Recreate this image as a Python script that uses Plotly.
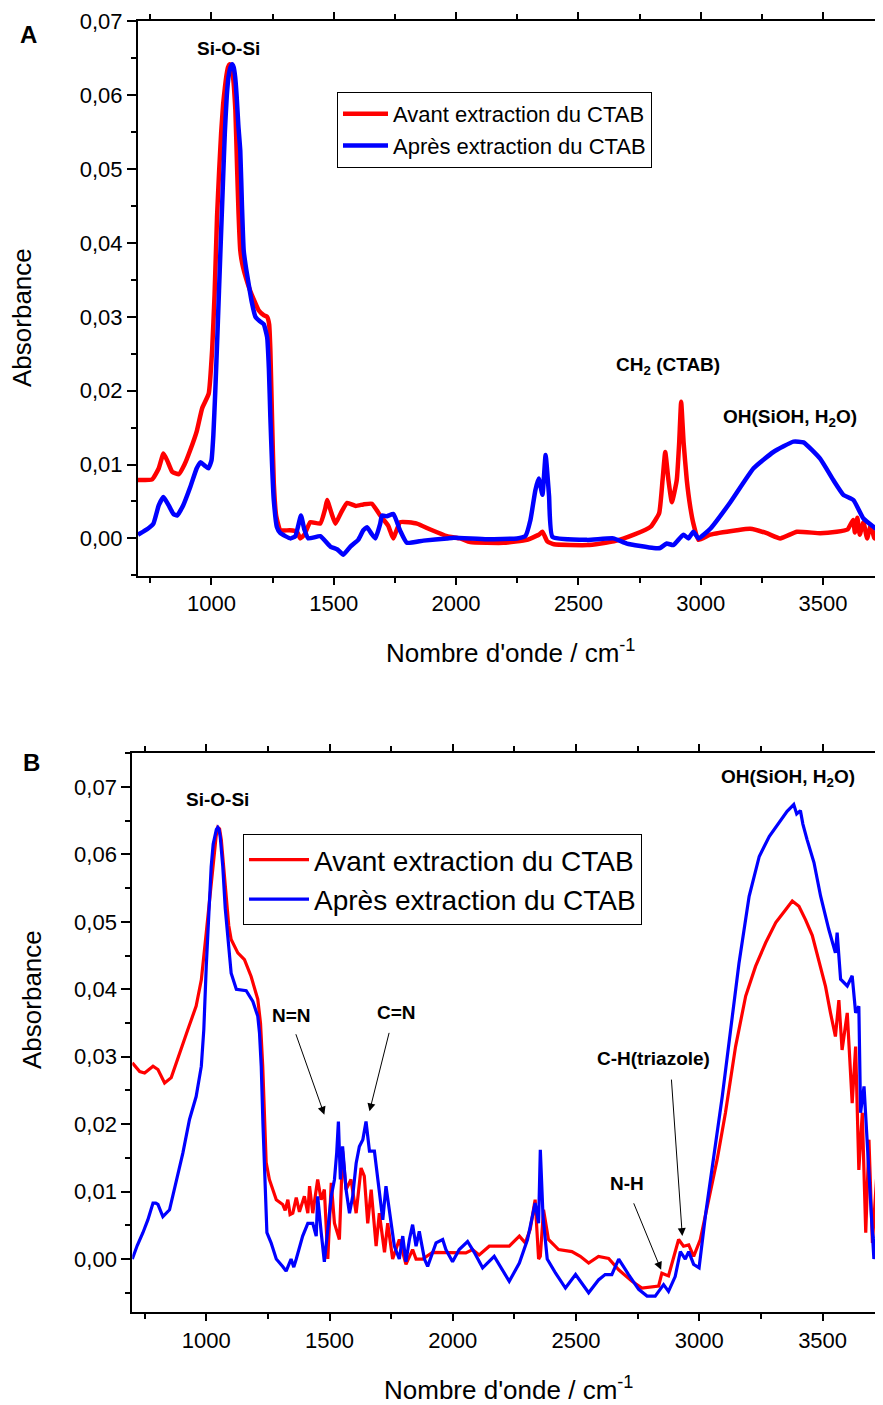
import plotly.graph_objects as go

# ---- Panel A : FTIR before / after CTAB extraction ----
wn_a_avant = [700, 758, 785, 804, 820, 840, 867, 890, 914, 940, 962, 989, 1003, 1013, 1023, 1032,
              1040, 1048, 1055, 1062, 1068, 1074, 1080, 1086, 1092, 1098, 1105, 1111, 1118, 1126,
              1135, 1159, 1193, 1215, 1228, 1236, 1241, 1248, 1255, 1265, 1282, 1320,
              1350, 1363, 1380, 1404, 1445, 1465, 1473, 1490, 1507, 1530, 1555, 1590, 1621, 1656,
              1690, 1723, 1743, 1772, 1840, 1895, 1963, 2017, 2058, 2193, 2290, 2338, 2353, 2373,
              2400, 2537, 2645, 2727, 2796, 2830, 2844, 2855, 2868, 2882, 2902, 2912, 2920, 2930,
              2943, 2957, 2970, 2991, 3039, 3148, 3202, 3270, 3325, 3393, 3488, 3556, 3600, 3623,
              3630, 3640, 3650, 3665, 3680, 3695, 3710, 3725, 3740]
abs_a_avant = [0.0079, 0.008, 0.0095, 0.0115, 0.0105, 0.009, 0.0087, 0.0100, 0.012, 0.0145, 0.0176,
               0.0196, 0.0255, 0.033, 0.0435, 0.050, 0.055, 0.0588, 0.061, 0.0628, 0.0638, 0.0642,
               0.0641, 0.0632, 0.0612, 0.058, 0.0502, 0.044, 0.039, 0.0372, 0.036, 0.0335,
               0.0309, 0.0302, 0.030, 0.029, 0.0255, 0.016, 0.0075, 0.003, 0.0011, 0.0011, 0.0009,
               0.0, 0.0005,
               0.0022, 0.002, 0.004, 0.0052, 0.0035, 0.002, 0.0035, 0.0048, 0.0044, 0.0046, 0.0047,
               0.0031, 0.0017, 0.0, 0.0022, 0.002, 0.0012, 0.0003, 0.0, -0.0005, -0.0006, -0.0002,
               0.0005, 0.0009, -0.0004, -0.0008, -0.0009, -0.0004, 0.0005, 0.0016, 0.0034, 0.0079,
               0.0117, 0.0079, 0.0049, 0.0079, 0.013, 0.0185, 0.013, 0.0079, 0.0043, 0.002, -0.0002,
               0.0005, 0.0011, 0.0013, 0.0007, 0.0, 0.0009, 0.0007, 0.0009, 0.0012, 0.0025, 0.0008,
               0.0028, 0.0005, 0.0022, 0.0, 0.0018, 0.0, 0.0015, 0.0025]

wn_a_apres = [700, 740, 763, 785, 804, 825, 845, 860, 885, 914, 940, 955, 975, 988, 1000, 1008, 1016,
              1025, 1037, 1047, 1055, 1063, 1070, 1078, 1085, 1091, 1097, 1103, 1110, 1118, 1125,
              1132, 1142, 1152, 1165, 1180, 1198, 1214, 1228, 1235, 1241, 1248, 1255, 1268, 1282,
              1323, 1343, 1366, 1380, 1396, 1445, 1486, 1515, 1539, 1568, 1600, 1621, 1636, 1655,
              1670, 1690, 1697, 1717, 1744, 1772, 1799, 1867, 1963, 1990, 2126, 2249, 2283, 2304,
              2324, 2338, 2353, 2366, 2380, 2394, 2537, 2643, 2698, 2807, 2834, 2861, 2888, 2929,
              2950, 2970, 2991, 3039, 3121, 3216, 3297, 3379, 3420, 3488, 3542, 3583, 3624, 3665,
              3705, 3740]
abs_a_apres = [0.0005, 0.0013, 0.002, 0.0045, 0.0056, 0.0045, 0.0033, 0.0031, 0.0045, 0.007, 0.0095,
               0.0103, 0.0098, 0.0095, 0.0105, 0.014, 0.020, 0.028, 0.039, 0.048, 0.055, 0.060,
               0.0625, 0.0638, 0.0642, 0.0638, 0.0625, 0.060, 0.056, 0.0525, 0.045, 0.039, 0.0365,
               0.0345, 0.032, 0.030, 0.0294, 0.029, 0.0272, 0.023, 0.0164, 0.010, 0.0052, 0.0015,
               0.0007, 0.0, 0.0003,
               0.0031, 0.0012, 0.0, 0.0003, -0.0011, -0.0015, -0.0022, -0.0011, -0.0002, 0.0011,
               0.0015, 0.0006, 0.0, 0.002, 0.0031, 0.003, 0.0033, 0.001, -0.0006, -0.0003, 0.0,
               0.0001, -0.0001, 0.0, 0.0003, 0.0025, 0.0065, 0.0081, 0.0059, 0.0113, 0.0058, 0.0002,
               -0.0002, 0.0, -0.0007, -0.0013, -0.0013, -0.0007, -0.0009, 0.0005, 0.0, 0.0009, 0.0,
               0.0013, 0.0049, 0.0095, 0.0117, 0.0131, 0.013, 0.0108, 0.0079, 0.0059, 0.0052, 0.0027,
               0.0016, 0.0007]

# ---- Panel B ----
wn_b_avant = [700, 730, 750, 765, 784, 804, 831, 858, 892, 925, 959, 980, 1000, 1020, 1030, 1040,
              1047, 1054, 1061, 1071, 1081, 1091, 1101, 1128, 1155, 1182, 1209, 1220, 1229, 1237,
              1243, 1256, 1284, 1310, 1320, 1331,
              1340, 1351, 1365, 1378, 1398, 1412, 1419, 1432, 1452, 1466, 1479, 1493, 1507, 1520,
              1540, 1553, 1567, 1587, 1608, 1628, 1641, 1655, 1669, 1689, 1702, 1723, 1736, 1756,
              1783, 1810, 1837, 1851, 1878, 1918, 1972, 2026, 2053, 2080, 2107, 2148, 2202, 2229,
              2270, 2294, 2314, 2334, 2348, 2355, 2368, 2388, 2429, 2483, 2517, 2551, 2591, 2632,
              2673, 2727, 2767, 2835, 2848, 2875, 2916, 2936, 2957, 2977, 3004, 3038, 3072, 3106,
              3147, 3188, 3228, 3269, 3310, 3350, 3377, 3404, 3431, 3458, 3485, 3512, 3532, 3552,
              3566, 3579, 3600, 3620, 3634, 3647, 3661, 3675, 3688, 3702, 3722, 3740]
abs_b_avant = [0.0291, 0.0278, 0.0276, 0.028, 0.0286, 0.0281, 0.0261, 0.0269, 0.0306, 0.034, 0.0375,
               0.0414, 0.0484, 0.0558, 0.0598, 0.0627, 0.064, 0.0638, 0.0622, 0.058, 0.0533, 0.0495,
               0.0474, 0.0454, 0.0444, 0.0419, 0.0385, 0.035, 0.0286, 0.020, 0.0143, 0.0118, 0.0088,
               0.0081, 0.0072, 0.0088, 0.0066, 0.0068, 0.0091,
               0.007, 0.0093, 0.0068, 0.0108, 0.0068, 0.0118, 0.0088, 0.0103, 0.0, 0.0113, 0.0053,
               0.0029, 0.016, 0.0103, 0.0118, 0.0068, 0.0135, 0.0123, 0.0053, 0.0103, 0.0019, 0.0068,
               0.001, 0.0053, 0.0, 0.0029, -0.0008, 0.0014, 0.0, 0.0, 0.001, 0.001, 0.001, 0.0009,
               0.0014, 0.0006, 0.0019, 0.0019, 0.0019, 0.0034, 0.0024, 0.0044, 0.0088, 0.0, 0.0004,
               0.0073, 0.0029, 0.0014, 0.0011, 0.0004, -0.0006, 0.0004, 0.0001, -0.0016, -0.0033,
               -0.0043, -0.004, -0.0021, -0.0025, 0.0029, 0.0019, 0.0021, 0.0004, 0.0029, 0.0088,
               0.0147, 0.0217, 0.0315, 0.039, 0.0434, 0.0469, 0.0499, 0.0518, 0.0531, 0.0523, 0.0503,
               0.048, 0.0444, 0.0404, 0.0365, 0.033, 0.0384, 0.031, 0.0365, 0.0231, 0.0315, 0.0132,
               0.0217, 0.0039, 0.0177, 0.0024, 0.0137, 0.0167]

wn_b_apres = [700, 720, 743, 763, 784, 795, 804, 815, 824, 851, 878, 905, 932, 959, 980, 990, 1000,
              1010, 1020, 1028, 1035, 1041, 1047, 1052, 1057, 1062, 1067, 1077, 1088, 1101, 1122,
              1162, 1189, 1209, 1216, 1223, 1230, 1236, 1246, 1263,
              1284, 1310, 1324, 1344, 1355, 1365, 1391, 1412, 1432, 1446, 1452, 1466, 1479, 1493,
              1507, 1520, 1529, 1536, 1544, 1553, 1567, 1581, 1594, 1608, 1621, 1635, 1648, 1662,
              1682, 1696, 1716, 1729, 1749, 1763, 1783, 1797, 1810, 1824, 1837, 1851, 1864, 1885,
              1898, 1932, 1959, 1972, 1999, 2026, 2060, 2087, 2121, 2168, 2229, 2270, 2303, 2324,
              2334, 2348, 2355, 2366, 2383, 2417, 2457, 2498, 2551, 2591, 2618, 2645, 2673, 2713,
              2754, 2788, 2821, 2855, 2875, 2902, 2923, 2943, 2957, 2977, 2999, 3026, 3066, 3093,
              3127, 3161, 3202, 3243, 3284, 3325, 3356, 3383, 3395, 3410, 3420, 3437, 3465, 3492,
              3525, 3552, 3559, 3573, 3600, 3620, 3634, 3647, 3654, 3668, 3681, 3695, 3708, 3722,
              3735, 3745]
abs_b_apres = [0.0, 0.002, 0.0039, 0.0058, 0.0083, 0.0083, 0.0081, 0.007, 0.0063, 0.0073, 0.0113,
               0.0157, 0.0207, 0.0241, 0.0286, 0.034, 0.0434, 0.051, 0.0582, 0.0615, 0.063, 0.0637,
               0.064, 0.0637, 0.0625, 0.0605, 0.0582, 0.052, 0.0474, 0.0424, 0.040, 0.0398, 0.0382,
               0.036, 0.0335, 0.0286, 0.020, 0.0137, 0.0039, 0.0024, 0.0, -0.0011,
               -0.0018, 0.0, -0.0012, 0.0, 0.0034, 0.0053, 0.0053, 0.0034, 0.0093, 0.004, -0.0004,
               0.0044, 0.0093, 0.0118, 0.0157, 0.0204, 0.0118, 0.0167, 0.0103, 0.0068, 0.0093, 0.0142,
               0.0167, 0.0177, 0.0204, 0.016, 0.016, 0.0118, 0.0058, 0.0108, 0.0053, 0.0019, 0.0,
               0.0034, -0.0004, 0.0029, 0.0051, 0.0019, 0.0041, 0.0, -0.0011, 0.0024, 0.0029, 0.0014,
               -0.0004, 0.0014, 0.0026, 0.001, -0.0013, 0.0004, -0.0033, -0.0006, 0.0029, 0.0068,
               0.0083, 0.0053, 0.0162, 0.0063, 0.0, -0.0021, -0.0043, -0.0023, -0.005, -0.0031,
               -0.0023, -0.0023, 0.0, -0.0023, -0.0045, -0.0055, -0.0055, -0.0038, -0.0048, -0.0026,
               0.0011, 0.0, 0.0011, -0.0008, -0.0013, 0.0068, 0.0167, 0.0241, 0.034, 0.0439, 0.0538,
               0.0597, 0.0627, 0.0647, 0.0664, 0.0674, 0.066, 0.0665, 0.0645, 0.0622, 0.0588, 0.0538,
               0.0489, 0.0454, 0.0484, 0.0415, 0.0405, 0.042, 0.0365, 0.0375, 0.0217, 0.0256, 0.0167,
               0.0093, 0.0, 0.0053, 0.0, 0.0]

RED = "#ff0000"
BLUE = "#0000ff"
FONT = "Liberation Sans, Arial, sans-serif"
W, H = 875, 1397  # page body adds an 8px margin


def px(x):
    return (x - 8) / W


def py(y):
    return 1 - (y - 8) / H


fig = go.Figure()
fig.add_trace(go.Scatter(x=wn_a_avant, y=abs_a_avant, mode="lines", name="Avant extraction du CTAB",
                         line=dict(color=RED, width=4.5, shape="spline", smoothing=0.4),
                         xaxis="x", yaxis="y", legend="legend"))
fig.add_trace(go.Scatter(x=wn_a_apres, y=abs_a_apres, mode="lines", name="Après extraction du CTAB",
                         line=dict(color=BLUE, width=4.5, shape="spline", smoothing=0.4),
                         xaxis="x", yaxis="y", legend="legend"))
fig.add_trace(go.Scatter(x=wn_b_avant, y=abs_b_avant, mode="lines", name="Avant extraction du CTAB",
                         line=dict(color=RED, width=3.2), xaxis="x2", yaxis="y2", legend="legend2"))
fig.add_trace(go.Scatter(x=wn_b_apres, y=abs_b_apres, mode="lines", name="Après extraction du CTAB",
                         line=dict(color=BLUE, width=3.2), xaxis="x2", yaxis="y2", legend="legend2"))

xcommon = dict(showline=True, linewidth=2, linecolor="black", mirror="ticks", ticks="outside",
               ticklen=7, tickwidth=2, tickcolor="black", showgrid=False, zeroline=False,
               automargin=False, tick0=0, dtick=500, tickfont=dict(size=22, color="black"),
               minor=dict(ticks="outside", ticklen=5, tickwidth=2, tickcolor="black", dtick=250))
ycommon = dict(showline=True, linewidth=2, linecolor="black", ticks="outside", ticklen=9,
               tickwidth=2, tickcolor="black", showgrid=False, zeroline=False, automargin=False,
               tick0=0, dtick=0.01, tickformat=".2f", tickfont=dict(size=22, color="black"),
               minor=dict(ticks="outside", ticklen=5, tickwidth=2, tickcolor="black", dtick=0.005))

fig.update_layout(
    width=W, height=H,
    margin=dict(l=0, r=0, t=0, b=0, autoexpand=False),
    paper_bgcolor="white", plot_bgcolor="white",
    font=dict(family=FONT, color="black"),
    separators=", ",
    xaxis=dict(domain=[px(138), 1], range=[700, 3745], anchor="y", **xcommon),
    yaxis=dict(domain=[py(575.7), py(20.7)], range=[-0.00505, 0.0701], anchor="x", **ycommon),
    xaxis2=dict(domain=[px(132.3), 1], range=[700, 3745], anchor="y2", **xcommon),
    yaxis2=dict(domain=[py(1312.3), py(753.3)], range=[-0.0079, 0.075], anchor="x2", **ycommon),
    legend=dict(x=px(337), y=py(92), xanchor="left", yanchor="top", bgcolor="white",
                bordercolor="black", borderwidth=1, font=dict(size=22), tracegroupgap=0,
                itemwidth=45),
    legend2=dict(x=px(243), y=py(834), xanchor="left", yanchor="top", bgcolor="white",
                 bordercolor="black", borderwidth=1, font=dict(size=28), tracegroupgap=0,
                 itemwidth=60),
    showlegend=True,
)

bold = dict(family=FONT, size=19, color="black")
notes = [
    # panel A
    dict(x=1069, y=0.0664, xref="x", yref="y", text="<b>Si-O-Si</b>"),
    dict(x=2867, y=0.0234, xref="x", yref="y", text="<b>CH<sub>2</sub> (CTAB)</b>"),
    dict(x=3365, y=0.0163, xref="x", yref="y", text="<b>OH(SiOH, H<sub>2</sub>O)</b>"),
    # panel B
    dict(x=1046, y=0.0681, xref="x2", yref="y2", text="<b>Si-O-Si</b>"),
    dict(x=3359, y=0.0713, xref="x2", yref="y2", text="<b>OH(SiOH, H<sub>2</sub>O)</b>"),
    dict(x=1346, y=0.0361, xref="x2", yref="y2", text="<b>N=N</b>"),
    dict(x=1771, y=0.0366, xref="x2", yref="y2", text="<b>C=N</b>"),
    dict(x=2816, y=0.0297, xref="x2", yref="y2", text="<b>C-H(triazole)</b>"),
    dict(x=2707, y=0.0112, xref="x2", yref="y2", text="<b>N-H</b>"),
]
for n in notes:
    fig.add_annotation(showarrow=False, font=bold, xanchor="center", yanchor="middle", **n)

# arrows (tip in data coords, tail offset in px)
arrows = [(1479, 0.0214, -29, -82), (1662, 0.0219, 20, -80),
          (2931, 0.0034, -11, -158), (2845, -0.0016, -28, -68)]
for ax_x, ax_y, dx, dy in arrows:
    fig.add_annotation(x=ax_x, y=ax_y, xref="x2", yref="y2", text="", showarrow=True,
                       ax=dx, ay=dy, arrowhead=2, arrowsize=1.6, arrowwidth=1, arrowcolor="black")

# panel letters and axis titles
for letter, cx, cy in [("A", 28, 35), ("B", 31, 762)]:
    fig.add_annotation(x=px(cx), y=py(cy), xref="paper", yref="paper", showarrow=False,
                       xanchor="center", yanchor="middle", text="<b>%s</b>" % letter,
                       font=dict(family=FONT, size=24, color="black"))
for cx, cy in [(22, 318), (32, 1000)]:
    fig.add_annotation(x=px(cx), y=py(cy), xref="paper", yref="paper", showarrow=False,
                       xanchor="center", yanchor="middle", text="Absorbance", textangle=-90,
                       font=dict(family=FONT, size=26, color="black"))
for cx, cy in [(510, 651), (508, 1388)]:
    fig.add_annotation(x=px(cx), y=py(cy), xref="paper", yref="paper", showarrow=False,
                       xanchor="center", yanchor="middle", text="Nombre d'onde / cm<sup>-1</sup>",
                       font=dict(family=FONT, size=26, color="black"))

fig.write_html("out.html")
